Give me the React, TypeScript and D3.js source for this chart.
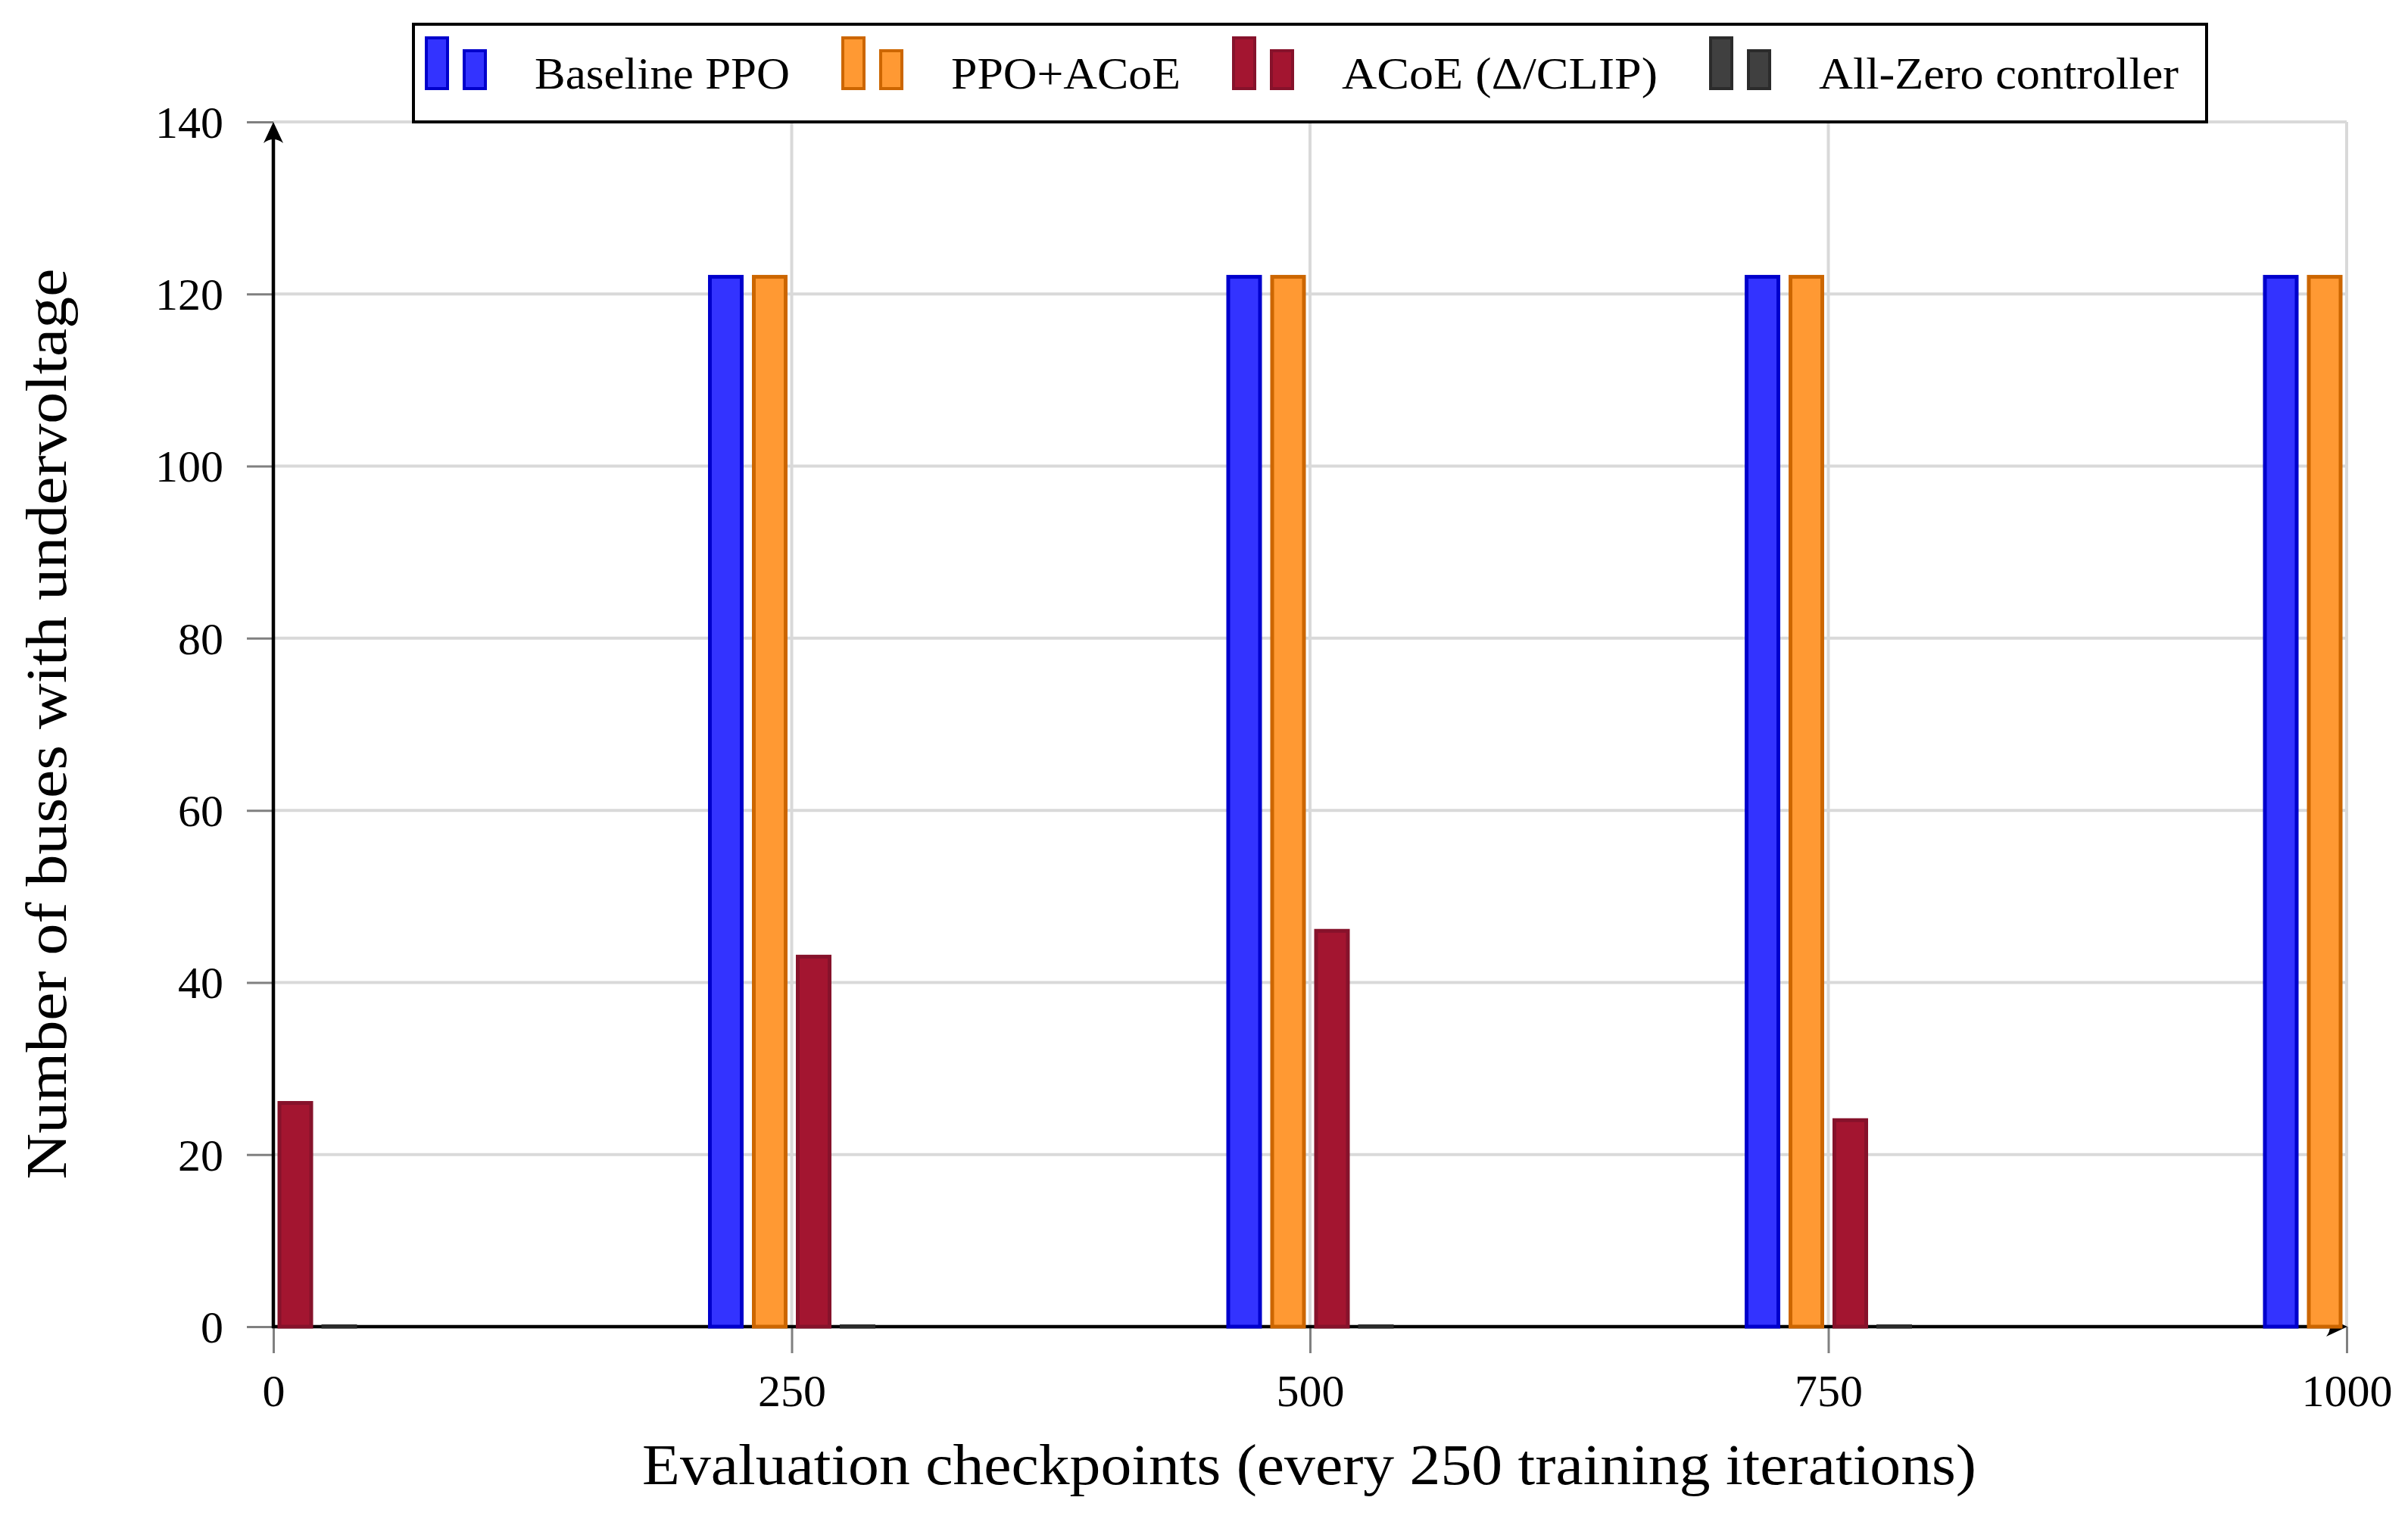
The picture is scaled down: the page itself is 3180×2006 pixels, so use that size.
import * as React from 'react';
import {useEffect, useRef} from 'react';
import * as d3 from 'd3';

// checkpoints on the x axis (training iterations)
const checkpoints = [0, 250, 500, 750, 1000];

// buses with undervoltage, one value per checkpoint
const baselinePPO = [0, 122, 122, 122, 122];
const ppoACoE = [0, 122, 122, 122, 122];
const acoeDeltaClip = [26, 43, 46, 24, 0];
const allZeroController = [0, 0, 0, 0, 0];

const seriesNames = ['Baseline PPO', 'PPO+ACoE', 'ACoE (\u0394/CLIP)', 'All-Zero controller'];
const seriesValues = [baselinePPO, ppoACoE, acoeDeltaClip, allZeroController];
const seriesFill = ['#3333ff', '#ff9933', '#a31530', '#404040'];
const seriesStroke = ['#0000cc', '#cc6600', '#86122b', '#2b2b2b'];

const xTicks = [0, 250, 500, 750, 1000];
const yTicks = [0, 20, 40, 60, 80, 100, 120, 140];

const W = 3180;
const H = 2006;
const FONT = '"Liberation Serif", "DejaVu Serif", serif';

// the original uses a wider (Palatino-like) face, so text is stretched to its widths
const legendTextWidths = [337, 303, 417, 475];

export default function App() {
    const ref = useRef<SVGSVGElement>(null);

    useEffect(() => {
        const svg = d3.select(ref.current);
        svg.selectAll('*').remove();

        const x0 = 361, x1 = 3099, y0 = 1752, y1 = 161;
        const xScale = d3.scaleLinear().domain([0, 1000]).range([x0, x1]);
        const yScale = d3.scaleLinear().domain([0, 140]).range([y0, y1]);

        const barW = 42;     // inner width, stroke adds 5
        const barStep = 58;  // distance between neighbouring bars in a group

        svg.append('defs').append('clipPath').attr('id', 'plotclip')
            .append('rect')
            .attr('x', x0).attr('y', y1 - 10)
            .attr('width', x1 - x0).attr('height', y0 - y1 + 20);

        // grid
        const grid = svg.append('g');
        grid.selectAll('.hg')
            .data(yTicks.filter(d => d > 0))
            .enter().append('line')
            .attr('x1', x0).attr('x2', x1)
            .attr('y1', d => yScale(d)).attr('y2', d => yScale(d))
            .attr('stroke', '#d9d9d9').attr('stroke-width', 4);
        grid.selectAll('.vg')
            .data(xTicks.filter(d => d > 0))
            .enter().append('line')
            .attr('x1', d => xScale(d)).attr('x2', d => xScale(d))
            .attr('y1', y0).attr('y2', y1)
            .attr('stroke', '#d9d9d9').attr('stroke-width', 4);

        // y axis ticks + labels
        const yAxis = svg.append('g')
            .attr('transform', `translate(${x0}, 0)`)
            .call(d3.axisLeft(yScale).tickValues(yTicks).tickSize(35).tickPadding(31).tickFormat(d3.format('d')));
        yAxis.select('.domain').remove();
        yAxis.selectAll('line').attr('stroke', '#808080').attr('stroke-width', 3);
        yAxis.selectAll('text')
            .attr('font-family', FONT).attr('font-size', 60).attr('fill', '#000').attr('dy', '0.34em');

        // x axis ticks + labels
        const xAxis = svg.append('g')
            .attr('transform', `translate(0, ${y0})`)
            .call(d3.axisBottom(xScale).tickValues(xTicks).tickSize(35).tickPadding(27).tickFormat(d3.format('d')));
        xAxis.select('.domain').remove();
        xAxis.selectAll('line').attr('stroke', '#808080').attr('stroke-width', 3);
        xAxis.selectAll('text')
            .attr('font-family', FONT).attr('font-size', 60).attr('fill', '#000');

        // axis lines with arrow heads
        const axes = svg.append('g');
        axes.append('line')
            .attr('x1', x0).attr('x2', x0).attr('y1', y0 + 2).attr('y2', y1 + 12)
            .attr('stroke', '#000').attr('stroke-width', 4.5);
        axes.append('path')
            .attr('d', `M${x0},${y1} L${x0 - 13},${y1 + 28} Q${x0},${y1 + 18} ${x0 + 13},${y1 + 28} Z`)
            .attr('fill', '#000');
        axes.append('line')
            .attr('x1', x0 - 2).attr('x2', x1 - 12).attr('y1', y0).attr('y2', y0)
            .attr('stroke', '#000').attr('stroke-width', 4.5);
        axes.append('path')
            .attr('d', `M${x1 + 1},${y0} L${x1 - 27},${y0 - 13} Q${x1 - 17},${y0} ${x1 - 27},${y0 + 13} Z`)
            .attr('fill', '#000');

        // bars (zero bars still show their outline on the baseline)
        const bars = svg.append('g').attr('clip-path', 'url(#plotclip)');
        seriesValues.forEach((values, si) => {
            const offset = (si - 1.5) * barStep;
            bars.selectAll(`.bar${si}`)
                .data(values)
                .enter().append('rect')
                .attr('x', (d, i) => xScale(checkpoints[i]) + offset - barW / 2)
                .attr('y', d => Math.min(yScale(d), yScale(0) - 0.5))
                .attr('width', barW)
                .attr('height', d => Math.max(yScale(0) - yScale(d), 0.5))
                .attr('fill', seriesFill[si])
                .attr('stroke', seriesStroke[si])
                .attr('stroke-width', 5);
        });

        // axis labels
        svg.append('text')
            .attr('x', 1729).attr('y', 1960)
            .attr('text-anchor', 'middle')
            .attr('font-family', FONT).attr('font-size', 76)
            .attr('textLength', 1762).attr('lengthAdjust', 'spacingAndGlyphs')
            .text('Evaluation checkpoints (every 250 training iterations)');
        svg.append('text')
            .attr('transform', `translate(87, 956) rotate(-90)`)
            .attr('text-anchor', 'middle')
            .attr('font-family', FONT).attr('font-size', 76)
            .attr('textLength', 1203).attr('lengthAdjust', 'spacingAndGlyphs')
            .text('Number of buses with undervoltage');

        // legend
        const legend = svg.append('g');
        const box = legend.append('rect')
            .attr('y', 32).attr('height', 129)
            .attr('fill', '#fff').attr('stroke', '#000').attr('stroke-width', 4);
        const items = legend.append('g');
        let cx = 15;
        seriesNames.forEach((name, si) => {
            const g = items.append('g').attr('transform', `translate(${cx}, 0)`);
            g.append('rect')
                .attr('x', 2).attr('y', 50).attr('width', 28).attr('height', 67)
                .attr('fill', seriesFill[si]).attr('stroke', seriesStroke[si]).attr('stroke-width', 4);
            g.append('rect')
                .attr('x', 52).attr('y', 67).attr('width', 28).attr('height', 50)
                .attr('fill', seriesFill[si]).attr('stroke', seriesStroke[si]).attr('stroke-width', 4);
            g.append('text')
                .attr('x', 145).attr('y', 117)
                .attr('font-family', FONT).attr('font-size', 60)
                .attr('textLength', legendTextWidths[si]).attr('lengthAdjust', 'spacingAndGlyphs')
                .text(name);
            cx += 145 + legendTextWidths[si] + (si < seriesNames.length - 1 ? 68 : 37);
        });
        const boxW = cx;
        const boxX = (x0 + x1) / 2 - boxW / 2;
        box.attr('x', boxX).attr('width', boxW);
        items.attr('transform', `translate(${boxX}, 0)`);
    }, []);

    return (
        <svg ref={ref} width={W} height={H}
             style={{position: 'absolute', left: 0, top: 0, background: '#fff'}} />
    );
}
